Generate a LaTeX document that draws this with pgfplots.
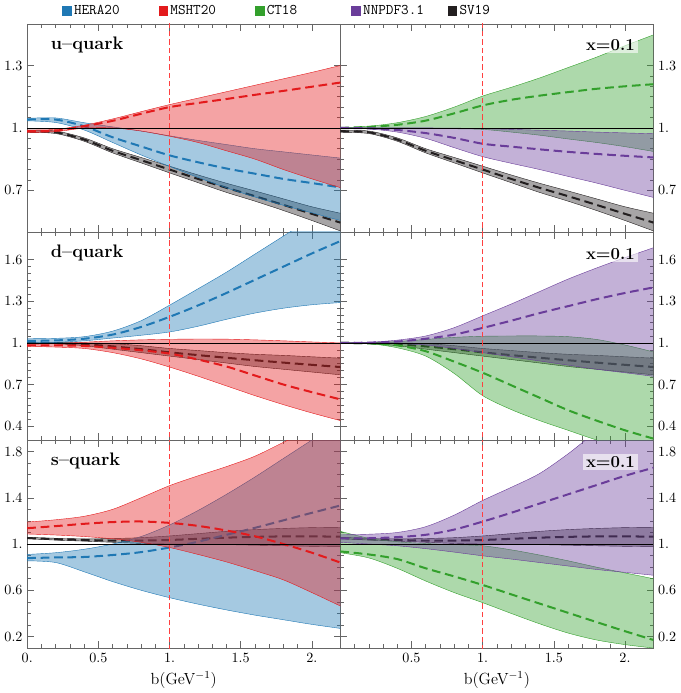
\documentclass[border=0pt]{standalone}
\usepackage{pgfplots}
\pgfplotsset{compat=1.18}
\usepackage{pgfplotstable}
\usepgfplotslibrary{groupplots,fillbetween}

\definecolor{hera}{HTML}{1F78B4}
\definecolor{msht}{HTML}{E31A1C}
\definecolor{ct}{HTML}{33A02C}
\definecolor{nnpdf}{HTML}{6A3D9A}
\definecolor{sv}{HTML}{231F20}
\definecolor{vline}{HTML}{FF4040}

% b, then central/upper/lower for HERA20 (h), MSHT20 (m), CT18 (c), NNPDF3.1 (n), SV19 (s)
\pgfplotstableread{
b    hc    hu    hl    mc    mu    ml    cc    cu    cl    nc    nu    nl    sc    su    sl
0.0  1.040 1.046 1.034 0.984 0.990 0.978 1.000 1.000 1.000 1.000 1.000 1.000 0.984 0.989 0.979
0.2  1.040 1.048 1.026 0.987 0.993 0.982 1.005 1.008 1.000 0.998 1.000 0.995 0.979 0.985 0.973
0.4  1.008 1.025 0.990 1.008 1.013 0.999 1.015 1.025 0.999 0.990 1.000 0.980 0.944 0.952 0.936
0.6  0.955 1.005 0.930 1.034 1.043 1.000 1.035 1.055 0.998 0.975 1.000 0.950 0.890 0.900 0.880
0.8  0.911 0.985 0.870 1.068 1.078 0.985 1.070 1.100 0.996 0.952 0.999 0.905 0.845 0.858 0.832
1.0  0.868 0.962 0.815 1.100 1.112 0.960 1.108 1.153 0.993 0.924 0.997 0.862 0.800 0.816 0.784
1.2  0.835 0.940 0.762 1.120 1.143 0.930 1.135 1.195 0.980 0.910 0.993 0.830 0.755 0.774 0.737
1.4  0.805 0.920 0.712 1.139 1.174 0.890 1.155 1.240 0.965 0.897 0.989 0.800 0.712 0.734 0.690
1.6  0.780 0.900 0.668 1.159 1.205 0.850 1.172 1.290 0.947 0.885 0.985 0.767 0.672 0.697 0.648
1.8  0.755 0.885 0.628 1.178 1.236 0.800 1.188 1.340 0.930 0.875 0.980 0.735 0.630 0.659 0.603
2.0  0.735 0.870 0.592 1.198 1.267 0.755 1.200 1.395 0.910 0.866 0.976 0.700 0.587 0.621 0.555
2.2  0.714 0.855 0.555 1.218 1.300 0.713 1.210 1.447 0.887 0.858 0.972 0.666 0.545 0.590 0.505
}\tabU

\pgfplotstableread{
b    hc    hu    hl    mc    mu    ml    cc    cu    cl    nc    nu    nl    sc    su    sl
0.0  1.014 1.030 1.000 0.983 0.990 0.975 1.000 1.000 1.000 1.000 1.000 1.000 1.000 1.000 1.000
0.2  1.018 1.033 1.004 0.982 0.995 0.970 0.997 1.002 0.995 1.002 1.005 0.999 0.998 1.002 0.994
0.4  1.030 1.045 1.015 0.978 1.005 0.960 0.982 1.010 0.965 1.010 1.020 0.995 0.990 1.000 0.980
0.6  1.060 1.085 1.035 0.965 1.015 0.930 0.940 1.025 0.905 1.030 1.050 0.985 0.975 0.995 0.955
0.8  1.115 1.160 1.055 0.947 1.022 0.885 0.865 1.040 0.780 1.060 1.110 0.960 0.955 0.980 0.930
1.0  1.188 1.272 1.079 0.923 1.026 0.826 0.785 1.048 0.620 1.108 1.195 0.930 0.932 0.960 0.905
1.2  1.270 1.390 1.120 0.880 1.028 0.760 0.695 1.050 0.520 1.160 1.280 0.900 0.912 0.945 0.880
1.4  1.360 1.510 1.170 0.830 1.027 0.690 0.605 1.050 0.440 1.215 1.370 0.870 0.893 0.930 0.855
1.6  1.455 1.640 1.215 0.765 1.022 0.620 0.515 1.045 0.370 1.265 1.460 0.840 0.875 0.918 0.830
1.8  1.550 1.770 1.250 0.700 1.015 0.555 0.440 1.025 0.300 1.315 1.540 0.810 0.858 0.910 0.810
2.0  1.645 1.900 1.275 0.645 1.007 0.495 0.370 0.985 0.240 1.360 1.615 0.785 0.842 0.900 0.790
2.2  1.734 2.030 1.291 0.593 1.000 0.440 0.310 0.935 0.180 1.400 1.686 0.759 0.826 0.890 0.770
}\tabD

\pgfplotstableread{
b    hc    hu    hl    mc    mu    ml    cc    cu    cl    nc    nu    nl    sc    su    sl
0.0  0.878 0.910 0.855 1.137 1.190 1.087 0.936 1.110 0.925 1.050 1.080 1.015 1.052 1.058 1.046
0.2  0.884 0.925 0.840 1.155 1.210 1.078 0.910 1.050 0.880 1.050 1.085 1.000 1.042 1.050 1.034
0.4  0.888 0.955 0.760 1.175 1.240 1.065 0.870 1.020 0.790 1.060 1.100 0.985 1.035 1.045 1.025
0.6  0.905 1.000 0.675 1.190 1.300 1.045 0.790 1.005 0.680 1.080 1.150 0.960 1.030 1.048 1.015
0.8  0.930 1.065 0.600 1.195 1.400 1.015 0.720 0.995 0.580 1.125 1.250 0.930 1.030 1.055 1.005
1.0  0.970 1.165 0.536 1.183 1.505 0.970 0.646 0.985 0.493 1.194 1.377 0.898 1.035 1.070 1.000
1.2  1.020 1.290 0.480 1.157 1.590 0.910 0.565 0.950 0.400 1.270 1.490 0.870 1.045 1.090 0.998
1.4  1.080 1.430 0.430 1.117 1.670 0.845 0.485 0.905 0.310 1.350 1.610 0.840 1.055 1.110 0.995
1.6  1.140 1.580 0.385 1.067 1.760 0.770 0.405 0.855 0.230 1.430 1.780 0.810 1.062 1.125 0.990
1.8  1.205 1.740 0.345 1.000 1.880 0.690 0.325 0.800 0.170 1.510 1.970 0.780 1.066 1.135 0.985
2.0  1.270 1.900 0.305 0.925 2.000 0.580 0.246 0.750 0.130 1.590 2.100 0.755 1.066 1.142 0.980
2.2  1.333 2.060 0.270 0.840 2.120 0.464 0.170 0.700 0.100 1.660 2.250 0.730 1.064 1.145 0.977
}\tabS

\pgfplotsset{
  sq/.style={legend image code/.code={\fill[#1] (0pt,-3.2pt) rectangle (6.4pt,3.2pt);}},
  /tikz/fill between/on layer=main,
}

% band: table, upper col, lower col, central col, colour
\newcommand{\band}[5]{%
  \addplot[name path=#2, draw=#5, line width=0.3pt, smooth] table[x=b,y=#2]{#1};
  \addplot[name path=#3, draw=#5, line width=0.3pt, smooth] table[x=b,y=#3]{#1};
  \addplot[fill=#5, fill opacity=0.4, draw=none] fill between[of=#2 and #3];
  \addplot[#5, line width=1.5pt, dash pattern=on 6.5pt off 3.5pt, smooth] table[x=b,y=#4]{#1};
}
\newcommand{\refl}{%
  \addplot[draw=black, line width=0.5pt] coordinates {(0,1) (2.2,1)};
  \addplot[draw=vline, line width=0.85pt, dash pattern=on 4pt off 2.2pt] coordinates {(1,-1) (1,3)};
}

\begin{document}
\begin{tikzpicture}
\begin{groupplot}[
  group style={group size=2 by 3, horizontal sep=0pt, vertical sep=0pt,
    xticklabels at=edge bottom},
  width=233.25pt, height=155pt, scale only axis,
  xmin=0, xmax=2.2,
  xtick={0,0.5,1,1.5,2},
  xticklabels={0.,0.5,1.,1.5,2.},
  minor x tick num=4,
  tick align=inside,
  major tick length=5pt, minor tick length=2.8pt,
  axis line style={draw=black!60},
  every tick/.style={black!60, line width=0.4pt},
  ticklabel style={font=\fontsize{10.5}{12}\selectfont},
  label style={font=\fontsize{12}{14}\selectfont},
]
% u-quark
\nextgroupplot[ymin=0.5, ymax=1.5, ytick={0.7,1,1.3}, yticklabels={0.7,1.,1.3},
  minor y tick num=5,
  legend style={at={(0.098,1.062)}, anchor=west, draw=none, fill=none,
    legend columns=5, font=\ttfamily\fontsize{11}{12}\selectfont,
    /tikz/every even column/.append style={column sep=2pt}},
  legend cell align=left]
\addlegendimage{sq=hera}
\addlegendimage{sq=msht}
\addlegendimage{sq=ct}
\addlegendimage{sq=nnpdf}
\addlegendimage{sq=sv}
\legend{\makebox[59pt][l]{HERA20},\makebox[59pt][l]{MSHT20},\makebox[59pt][l]{CT18},\makebox[59pt][l]{NNPDF3.1},SV19}
\band{\tabU}{su}{sl}{sc}{sv}
\band{\tabU}{hu}{hl}{hc}{hera}
\band{\tabU}{mu}{ml}{mc}{msht}
\refl
\node[anchor=west, font=\bfseries\fontsize{13.5}{15}\selectfont] at (rel axis cs:0.06,0.9) {u--quark};

\nextgroupplot[ymin=0.5, ymax=1.5, ytick={0.7,1,1.3}, yticklabels={0.7,1.,1.3},
  minor y tick num=5, yticklabel pos=right]
\band{\tabU}{su}{sl}{sc}{sv}
\band{\tabU}{cu}{cl}{cc}{ct}
\band{\tabU}{nu}{nl}{nc}{nnpdf}
\refl
\node[anchor=east, fill=white, fill opacity=0.6, text opacity=1, inner sep=2pt,
  font=\bfseries\fontsize{12.5}{14}\selectfont] at (rel axis cs:0.95,0.9) {x=0.1};

% d-quark
\nextgroupplot[ymin=0.3, ymax=1.8, ytick={0.4,0.7,1,1.3,1.6}, yticklabels={0.4,0.7,1.,1.3,1.6},
  minor y tick num=5]
\band{\tabD}{su}{sl}{sc}{sv}
\band{\tabD}{hu}{hl}{hc}{hera}
\band{\tabD}{mu}{ml}{mc}{msht}
\refl
\node[anchor=west, font=\bfseries\fontsize{13.5}{15}\selectfont] at (rel axis cs:0.06,0.9) {d--quark};

\nextgroupplot[ymin=0.3, ymax=1.8, ytick={0.4,0.7,1,1.3,1.6}, yticklabels={0.4,0.7,1.,1.3,1.6},
  minor y tick num=5, yticklabel pos=right]
\band{\tabD}{su}{sl}{sc}{sv}
\band{\tabD}{cu}{cl}{cc}{ct}
\band{\tabD}{nu}{nl}{nc}{nnpdf}
\refl
\node[anchor=east, fill=white, fill opacity=0.6, text opacity=1, inner sep=2pt,
  font=\bfseries\fontsize{12.5}{14}\selectfont] at (rel axis cs:0.95,0.894) {x=0.1};

% s-quark
\nextgroupplot[ymin=0.1, ymax=1.9, ytick={0.2,0.6,1,1.4,1.8}, yticklabels={0.2,0.6,1.,1.4,1.8},
  minor y tick num=3, xlabel={b(GeV$^{-1}$)}]
\band{\tabS}{su}{sl}{sc}{sv}
\band{\tabS}{hu}{hl}{hc}{hera}
\band{\tabS}{mu}{ml}{mc}{msht}
\refl
\node[anchor=west, font=\bfseries\fontsize{13.5}{15}\selectfont] at (rel axis cs:0.06,0.9) {s--quark};

\nextgroupplot[ymin=0.1, ymax=1.9, ytick={0.2,0.6,1,1.4,1.8}, yticklabels={0.2,0.6,1.,1.4,1.8},
  minor y tick num=3, yticklabel pos=right, xticklabels={,0.5,1.,1.5,2.},
  xlabel={b(GeV$^{-1}$)}]
\band{\tabS}{su}{sl}{sc}{sv}
\band{\tabS}{cu}{cl}{cc}{ct}
\band{\tabS}{nu}{nl}{nc}{nnpdf}
\refl
\node[anchor=east, fill=white, fill opacity=0.6, text opacity=1, inner sep=2pt,
  font=\bfseries\fontsize{12.5}{14}\selectfont] at (rel axis cs:0.95,0.894) {x=0.1};
\end{groupplot}
\end{tikzpicture}
\end{document}
